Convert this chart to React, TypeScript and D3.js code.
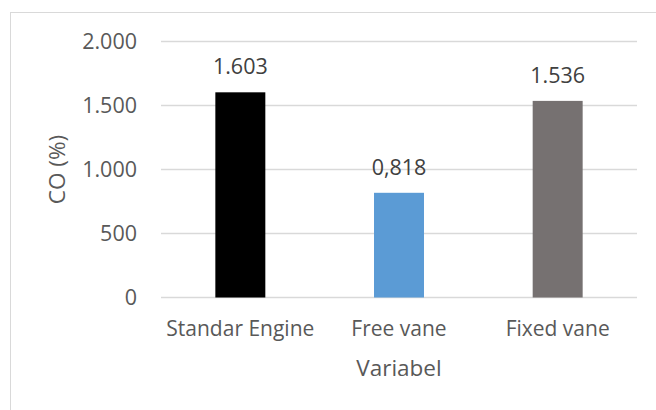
import React, { useEffect, useRef } from 'react';
import * as d3 from 'd3';

const categories = ['Standar Engine', 'Free vane', 'Fixed vane'];
const values = [1603, 818, 1536];
const valueLabels = ['1.603', '0,818', '1.536'];
const colors = ['#000000', '#5b9bd5', '#767171'];
const yTicks = [0, 500, 1000, 1500, 2000];
const yTickLabels = ['0', '500', '1.000', '1.500', '2.000'];

const App: React.FC = () => {
  const svgRef = useRef<SVGSVGElement>(null);

  useEffect(() => {
    const width = 656;
    const height = 410;
    const left = 161;
    const right = 637;
    const top = 41.5;
    const bottom = 297.5;
    const font = '"Open Sans", sans-serif';
    const textColor = '#595959';

    const svg = d3.select(svgRef.current)
      .attr('width', width)
      .attr('height', height);
    svg.selectAll('*').remove();

    // outer frame of the chart area
    svg.append('rect')
      .attr('x', 10.5).attr('y', 12.5)
      .attr('width', 700).attr('height', 450)
      .attr('fill', 'white')
      .attr('stroke', '#d9d9d9');

    const x = d3.scaleBand<string>()
      .domain(categories)
      .range([left, right])
      .paddingInner(0.685)
      .paddingOuter(0.3425);

    const y = d3.scaleLinear().domain([0, 2000]).range([bottom, top]);

    // gridlines
    svg.append('g')
      .selectAll('line')
      .data(yTicks)
      .enter()
      .append('line')
      .attr('x1', left).attr('x2', right)
      .attr('y1', d => y(d)).attr('y2', d => y(d))
      .attr('stroke', '#d9d9d9')
      .attr('stroke-width', 1.3);

    // y tick labels
    svg.append('g')
      .selectAll('text')
      .data(yTicks)
      .enter()
      .append('text')
      .attr('x', 137)
      .attr('y', d => y(d))
      .attr('dy', '0.36em')
      .attr('text-anchor', 'end')
      .attr('font-family', font)
      .attr('font-size', 21.5)
      .attr('fill', textColor)
      .text((d, i) => yTickLabels[i]);

    // bars
    svg.append('g')
      .selectAll('rect')
      .data(values)
      .enter()
      .append('rect')
      .attr('x', (d, i) => x(categories[i])!)
      .attr('y', d => y(d))
      .attr('width', x.bandwidth())
      .attr('height', d => bottom - y(d))
      .attr('fill', (d, i) => colors[i]);

    // value labels
    svg.append('g')
      .selectAll('text')
      .data(values)
      .enter()
      .append('text')
      .attr('x', (d, i) => x(categories[i])! + x.bandwidth() / 2)
      .attr('y', d => y(d) - 18)
      .attr('text-anchor', 'middle')
      .attr('font-family', font)
      .attr('font-size', 21.5)
      .attr('fill', '#404040')
      .text((d, i) => valueLabels[i]);

    // category labels
    svg.append('g')
      .selectAll('text')
      .data(categories)
      .enter()
      .append('text')
      .attr('x', d => x(d)! + x.bandwidth() / 2)
      .attr('y', 336)
      .attr('text-anchor', 'middle')
      .attr('font-family', font)
      .attr('font-size', 21)
      .attr('fill', textColor)
      .text(d => d);

    // axis titles
    svg.append('text')
      .attr('x', (left + right) / 2)
      .attr('y', 376)
      .attr('text-anchor', 'middle')
      .attr('font-family', font)
      .attr('font-size', 22.5)
      .attr('fill', textColor)
      .text('Variabel');

    svg.append('text')
      .attr('transform', `translate(65,${(top + bottom) / 2}) rotate(-90)`)
      .attr('text-anchor', 'middle')
      .attr('font-family', font)
      .attr('font-size', 22.5)
      .attr('fill', textColor)
      .text('CO (%)');
  }, []);

  return (
    <svg ref={svgRef} style={{ position: 'absolute', left: 0, top: 0 }}></svg>
  );
};

export default App;
